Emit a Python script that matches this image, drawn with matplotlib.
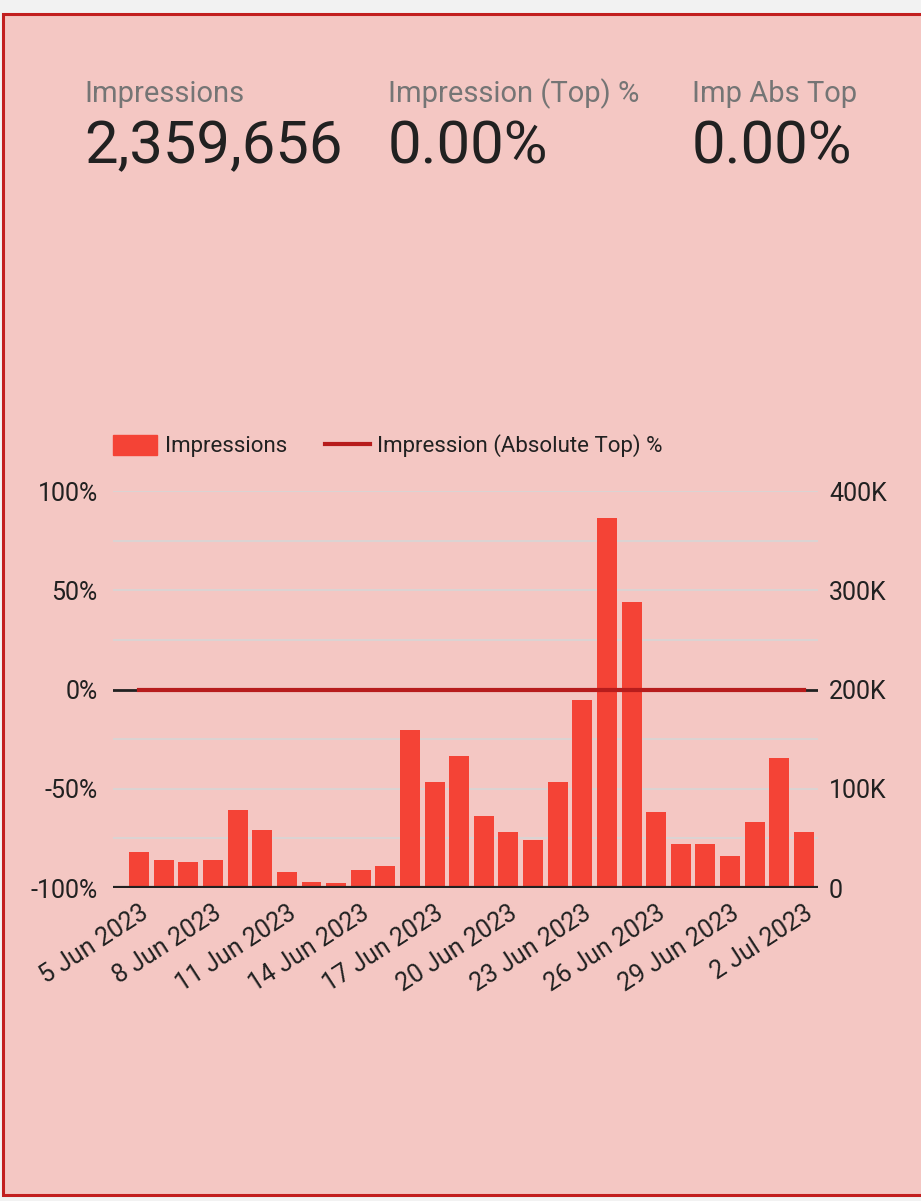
import matplotlib.pyplot as plt
from matplotlib.patches import Rectangle
from matplotlib.lines import Line2D
from matplotlib.ticker import FuncFormatter, MultipleLocator
import numpy as np

plt.rcParams['font.family'] = ['Roboto', 'DejaVu Sans']

# Data
dates = ['5 Jun 2023', '6 Jun 2023', '7 Jun 2023', '8 Jun 2023', '9 Jun 2023',
         '10 Jun 2023', '11 Jun 2023', '12 Jun 2023', '13 Jun 2023', '14 Jun 2023',
         '15 Jun 2023', '16 Jun 2023', '17 Jun 2023', '18 Jun 2023', '19 Jun 2023',
         '20 Jun 2023', '21 Jun 2023', '22 Jun 2023', '23 Jun 2023', '24 Jun 2023',
         '25 Jun 2023', '26 Jun 2023', '27 Jun 2023', '28 Jun 2023', '29 Jun 2023',
         '30 Jun 2023', '1 Jul 2023', '2 Jul 2023']
impressions = [36600, 28200, 26200, 28200, 78600, 58400, 16100, 6000, 5000, 18100,
               22200, 159200, 106800, 133000, 72500, 56400, 48400, 106800, 189400,
               372800, 288200, 76600, 44300, 44300, 32200, 66500, 131000, 56400]
abs_top_pct = [0.0] * 28

kpi_labels = ['Impressions', 'Impression (Top) %', 'Imp Abs Top']
kpi_values = ['2,359,656', '0.00%', '0.00%']

bg = '#f4c7c3'
bar_color = '#f44336'
line_color = '#b71c1c'

fig = plt.figure(figsize=(9.21, 12.01), dpi=100)
fig.patch.set_facecolor('#f2f2f2')

W, H = 921, 1201
card = Rectangle((3 / W, 1 - 1195 / H), 920 / W, (1195 - 14) / H,
                 transform=fig.transFigure, facecolor=bg, edgecolor='#c21f1f',
                 linewidth=2.2, zorder=-5)
fig.patches.append(card)

# KPI scorecards
kpi_x = [84, 388, 692]
for x, lab, val in zip(kpi_x, kpi_labels, kpi_values):
    fig.text(x / W, 1 - 94 / H, lab, fontsize=21, color='#757575', va='center', ha='left')
    fig.text(x / W, 1 - 147 / H, val, fontsize=43, color='#212121', va='center', ha='left')

# Chart
ax = fig.add_axes([113 / W, 1 - 888 / H, 705 / W, 397 / H])
ax2 = ax.twinx()

x = np.arange(len(dates))
ax2.bar(x, impressions, width=0.81, color=bar_color, zorder=2)
ax2.set_ylim(0, 400000)
ax2.yaxis.set_major_locator(MultipleLocator(100000))
ax2.yaxis.set_major_formatter(FuncFormatter(lambda v, p: '0' if v == 0 else f'{int(v / 1000)}K'))

ax.set_ylim(-1, 1)
ax.yaxis.set_major_locator(MultipleLocator(0.5))
ax.yaxis.set_major_formatter(FuncFormatter(lambda v, p: f'{int(round(v * 100))}%'))

# grid lines sit under the bars, so draw them on the bar axis
for g in np.arange(50000, 400001, 50000):
    if g != 200000:
        ax2.axhline(g, color='#d6d6d6', linewidth=1.2, zorder=0)
ax2.axhline(200000, color='#212121', linewidth=2, zorder=1)
ax2.axhline(0, color='#212121', linewidth=3, zorder=3)

# line axis on top of bar axis
ax2.set_zorder(1)
ax.set_zorder(2)
ax.patch.set_visible(False)
ax2.patch.set_visible(False)
ax.plot(x, abs_top_pct, color=line_color, linewidth=3, zorder=3)

ax.set_xlim(-1.06, 27.57)
ticks = x[::3]
ax.set_xticks(ticks)
ax.set_xticklabels([dates[i] for i in ticks], rotation=33, ha='right',
                   rotation_mode='anchor', fontsize=18, color='#212121')

for a in (ax, ax2):
    for s in a.spines.values():
        s.set_visible(False)
    a.tick_params(length=0, labelsize=18, colors='#212121')
ax.tick_params(axis='y', pad=11)
ax.tick_params(axis='x', pad=9)
ax2.tick_params(axis='y', pad=8)

handles = [Rectangle((0, 0), 1, 1, color=bar_color),
           Line2D([0], [0], color=line_color, linewidth=3)]
fig.legend(handles, ['Impressions', 'Impression (Absolute Top) %'],
           loc='center left', bbox_to_anchor=(93 / W, 1 - 446 / H), ncol=2,
           frameon=False, fontsize=16, handlelength=2.0, handleheight=1.0,
           columnspacing=1.7, handletextpad=0.35, labelcolor='#212121')

fig.savefig('out.png', dpi=100, facecolor=fig.get_facecolor())
